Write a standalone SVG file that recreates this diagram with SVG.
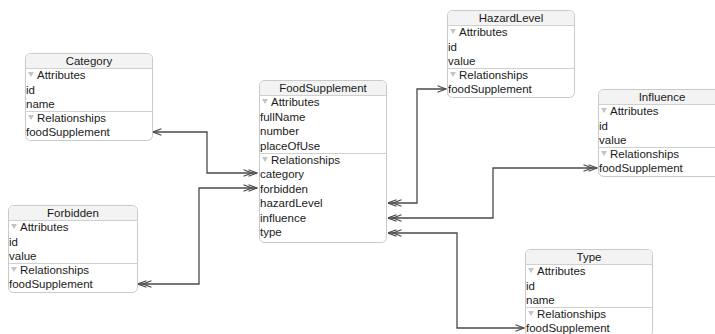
<svg xmlns="http://www.w3.org/2000/svg" width="715" height="334" viewBox="0 0 715 334">
<style>
.box{fill:#fff;stroke:#c9c9c9;stroke-width:1}
.hdr{fill:#f3f3f3}
.sep{stroke:#d0d0d0;stroke-width:1}
.t{font-family:"Liberation Sans",Arial,sans-serif;font-size:11.5px;fill:#1a1a1a}
.h{text-anchor:middle}
.tri{fill:#c4c4c4}
.con{fill:none;stroke:#4a4a4a;stroke-width:1.3}
</style>
<defs>
<marker id="one" viewBox="0 0 10 8" refX="9.5" refY="4" markerWidth="10" markerHeight="8" orient="auto-start-reverse" markerUnits="userSpaceOnUse"><path d="M1,0.8 L9.5,4 L1,7.2" fill="none" stroke="#4a4a4a" stroke-width="1.2"/></marker>
<marker id="many" viewBox="0 0 15 8" refX="14.5" refY="4" markerWidth="15" markerHeight="8" orient="auto-start-reverse" markerUnits="userSpaceOnUse"><path d="M1,0.8 L9.5,4 L1,7.2 M6,0.8 L14.5,4 L6,7.2" fill="none" stroke="#4a4a4a" stroke-width="1.2"/></marker>
<path id="triangle" d="M0,0 H6 L3,5 Z"/>
</defs>

<g id="connectors">
<path class="con" d="M153,132 H207 V173 H257" marker-start="url(#one)" marker-end="url(#many)"/>
<path class="con" d="M138,284 H199 V188 H257" marker-start="url(#many)" marker-end="url(#many)"/>
<path class="con" d="M388,203 H417 V89 H446" marker-start="url(#many)" marker-end="url(#one)"/>
<path class="con" d="M388,218 H493 V168 H597" marker-start="url(#many)" marker-end="url(#many)"/>
<path class="con" d="M388,233 H457 V328 H524" marker-start="url(#many)" marker-end="url(#one)"/>
</g>

<g id="Category" transform="translate(25,53)">
<rect class="box" x="0.5" y="0.5" width="127" height="87" rx="5"/>
<path class="hdr" d="M1,15 V5.5 Q1,1 5.5,1 H122.5 Q127,1 127,5.5 V15 Z"/>
<line class="sep" x1="0.5" y1="15.5" x2="127.5" y2="15.5"/>
<line class="sep" x1="0.5" y1="58.5" x2="127.5" y2="58.5"/>
<text class="t h" x="64" y="12">Category</text>
<use href="#triangle" class="tri" x="3" y="19"/>
<text class="t" x="12" y="26">Attributes</text>
<text class="t" x="1" y="40.5">id</text>
<text class="t" x="1" y="55">name</text>
<use href="#triangle" class="tri" x="3" y="62"/>
<text class="t" x="12" y="69">Relationships</text>
<text class="t" x="1" y="83">foodSupplement</text>
</g>

<g id="FoodSupplement" transform="translate(259,80)">
<rect class="box" x="0.5" y="0.5" width="127" height="162" rx="5"/>
<path class="hdr" d="M1,15 V5.5 Q1,1 5.5,1 H122.5 Q127,1 127,5.5 V15 Z"/>
<line class="sep" x1="0.5" y1="15.5" x2="127.5" y2="15.5"/>
<line class="sep" x1="0.5" y1="73.5" x2="127.5" y2="73.5"/>
<text class="t h" x="64" y="12">FoodSupplement</text>
<use href="#triangle" class="tri" x="3" y="19"/>
<text class="t" x="12" y="26">Attributes</text>
<text class="t" x="1" y="40.5">fullName</text>
<text class="t" x="1" y="55">number</text>
<text class="t" x="1" y="69.5">placeOfUse</text>
<use href="#triangle" class="tri" x="3" y="77"/>
<text class="t" x="12" y="83.5">Relationships</text>
<text class="t" x="1" y="98">category</text>
<text class="t" x="1" y="112.5">forbidden</text>
<text class="t" x="1" y="127">hazardLevel</text>
<text class="t" x="1" y="141.5">influence</text>
<text class="t" x="1" y="156">type</text>
</g>

<g id="HazardLevel" transform="translate(447,10)">
<rect class="box" x="0.5" y="0.5" width="127" height="87" rx="5"/>
<path class="hdr" d="M1,15 V5.5 Q1,1 5.5,1 H122.5 Q127,1 127,5.5 V15 Z"/>
<line class="sep" x1="0.5" y1="15.5" x2="127.5" y2="15.5"/>
<line class="sep" x1="0.5" y1="58.5" x2="127.5" y2="58.5"/>
<text class="t h" x="64" y="12">HazardLevel</text>
<use href="#triangle" class="tri" x="3" y="19"/>
<text class="t" x="12" y="26">Attributes</text>
<text class="t" x="1" y="40.5">id</text>
<text class="t" x="1" y="55">value</text>
<use href="#triangle" class="tri" x="3" y="62"/>
<text class="t" x="12" y="69">Relationships</text>
<text class="t" x="1" y="83">foodSupplement</text>
</g>

<g id="Influence" transform="translate(598,89)">
<rect class="box" x="0.5" y="0.5" width="127" height="87" rx="5"/>
<path class="hdr" d="M1,15 V5.5 Q1,1 5.5,1 H122.5 Q127,1 127,5.5 V15 Z"/>
<line class="sep" x1="0.5" y1="15.5" x2="127.5" y2="15.5"/>
<line class="sep" x1="0.5" y1="58.5" x2="127.5" y2="58.5"/>
<text class="t h" x="64" y="12">Influence</text>
<use href="#triangle" class="tri" x="3" y="19"/>
<text class="t" x="12" y="26">Attributes</text>
<text class="t" x="1" y="40.5">id</text>
<text class="t" x="1" y="55">value</text>
<use href="#triangle" class="tri" x="3" y="62"/>
<text class="t" x="12" y="69">Relationships</text>
<text class="t" x="1" y="83">foodSupplement</text>
</g>

<g id="Forbidden" transform="translate(8,205)">
<rect class="box" x="0.5" y="0.5" width="129" height="87" rx="5"/>
<path class="hdr" d="M1,15 V5.5 Q1,1 5.5,1 H124.5 Q129,1 129,5.5 V15 Z"/>
<line class="sep" x1="0.5" y1="15.5" x2="129.5" y2="15.5"/>
<line class="sep" x1="0.5" y1="58.5" x2="129.5" y2="58.5"/>
<text class="t h" x="65" y="12">Forbidden</text>
<use href="#triangle" class="tri" x="3" y="19"/>
<text class="t" x="12" y="26">Attributes</text>
<text class="t" x="1" y="40.5">id</text>
<text class="t" x="1" y="55">value</text>
<use href="#triangle" class="tri" x="3" y="62"/>
<text class="t" x="12" y="69">Relationships</text>
<text class="t" x="1" y="83">foodSupplement</text>
</g>

<g id="Type" transform="translate(525,249)">
<rect class="box" x="0.5" y="0.5" width="127" height="87" rx="5"/>
<path class="hdr" d="M1,15 V5.5 Q1,1 5.5,1 H122.5 Q127,1 127,5.5 V15 Z"/>
<line class="sep" x1="0.5" y1="15.5" x2="127.5" y2="15.5"/>
<line class="sep" x1="0.5" y1="58.5" x2="127.5" y2="58.5"/>
<text class="t h" x="64" y="12">Type</text>
<use href="#triangle" class="tri" x="3" y="19"/>
<text class="t" x="12" y="26">Attributes</text>
<text class="t" x="1" y="40.5">id</text>
<text class="t" x="1" y="55">name</text>
<use href="#triangle" class="tri" x="3" y="62"/>
<text class="t" x="12" y="69">Relationships</text>
<text class="t" x="1" y="83">foodSupplement</text>
</g>
</svg>
